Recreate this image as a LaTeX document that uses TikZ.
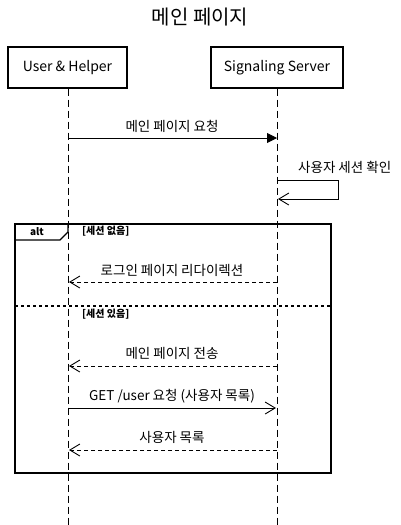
\documentclass[tikz,border=0pt]{standalone}
\usepackage{fontspec}
\setmainfont{Noto Sans CJK KR}
\usetikzlibrary{arrows.meta}
\tikzset{
  actor/.style={draw, line width=1.3pt, minimum width=119pt, minimum height=41pt, font=\fontsize{14}{16}\selectfont, inner sep=0pt},
  life/.style={dash pattern=on 7pt off 4pt, line width=0.9pt},
  msgsync/.style={line width=0.9pt, -{Triangle[length=10pt,width=10pt]}},
  msgopen/.style={line width=0.9pt, -{Straight Barb[length=10pt,width=12pt,line width=0.9pt]}},
  msgret/.style={line width=0.9pt, dash pattern=on 4pt off 3pt, -{Straight Barb[length=10pt,width=12pt,line width=0.9pt]}},
  lbl/.style={font=\fontsize{13.5}{15}\selectfont, inner sep=1pt, anchor=base},
  guard/.style={font=\bfseries\fontsize{10}{12}\selectfont, inner sep=0pt, anchor=west},
}
\begin{document}
\begin{tikzpicture}[x=1pt,y=-1pt]
\useasboundingbox (0,0) rectangle (401,525);
\node[font=\fontsize{20}{22}\selectfont] (title) at (200,17) {메인 페이지};
\node[actor] (u) at (67.5,67.5) {User \& Helper};
\node[actor, minimum width=132pt] (s) at (277,67.5) {Signaling Server};
\coordinate (ub) at (68,525);
\coordinate (sb) at (277,525);
\draw[life] (u.south -| ub) -- (ub);
\draw[life] (s.south -| sb) -- (sb);
% message 1
\coordinate (m1a) at (68,138);
\coordinate (m1b) at (277,138);
\draw[msgsync] (m1a) -- (m1b);
\node[lbl] (l1) at (172,131) {메인 페이지 요청};
% self message
\coordinate (sa) at (277,180);
\coordinate (sc) at (338,180);
\coordinate (sd) at (338,199);
\coordinate (se) at (278,199);
\draw[msgopen] (sa) -- (sc) -- (sd) -- (se);
\node[lbl, anchor=base west] (l2) at (297,172) {사용자 세션 확인};
% alt frame
\coordinate (fa) at (15,224);
\coordinate (fb) at (331,473);
\draw[line width=1.3pt] (fa) rectangle (fb);
\coordinate (t1) at (15,240);
\coordinate (t2) at (60,240);
\coordinate (t3) at (68,232);
\coordinate (t4) at (68,224);
\draw[line width=1.3pt] (t1) -- (t2) -- (t3) -- (t4);
\node[font=\bfseries\fontsize{10}{12}\selectfont, inner sep=0pt] (alt) at (37,232) {alt};
\node[guard] (g1) at (82,231) {[세션 없음]};
\draw[line width=1.1pt, dash pattern=on 3pt off 3pt] (15,306) coordinate (da) -- (331,306) coordinate (db);
\node[guard] (g2) at (82,314) {[세션 있음]};
% return 1
\coordinate (r1a) at (277,282);
\coordinate (r1b) at (69,282);
\draw[msgret] (r1a) -- (r1b);
\node[lbl] (l3) at (172,275) {로그인 페이지 리다이렉션};
% return 2
\coordinate (r2a) at (277,366);
\coordinate (r2b) at (69,366);
\draw[msgret] (r2a) -- (r2b);
\node[lbl] (l4) at (172,358) {메인 페이지 전송};
% get
\coordinate (g3a) at (68,408);
\coordinate (g3b) at (276,408);
\draw[msgopen] (g3a) -- (g3b);
\node[lbl] (l5) at (172,400) {GET /user 요청 (사용자 목록)};
% return 3
\coordinate (r3a) at (277,450);
\coordinate (r3b) at (69,450);
\draw[msgret] (r3a) -- (r3b);
\node[lbl] (l6) at (172,442) {사용자 목록};
\end{tikzpicture}
\end{document}
